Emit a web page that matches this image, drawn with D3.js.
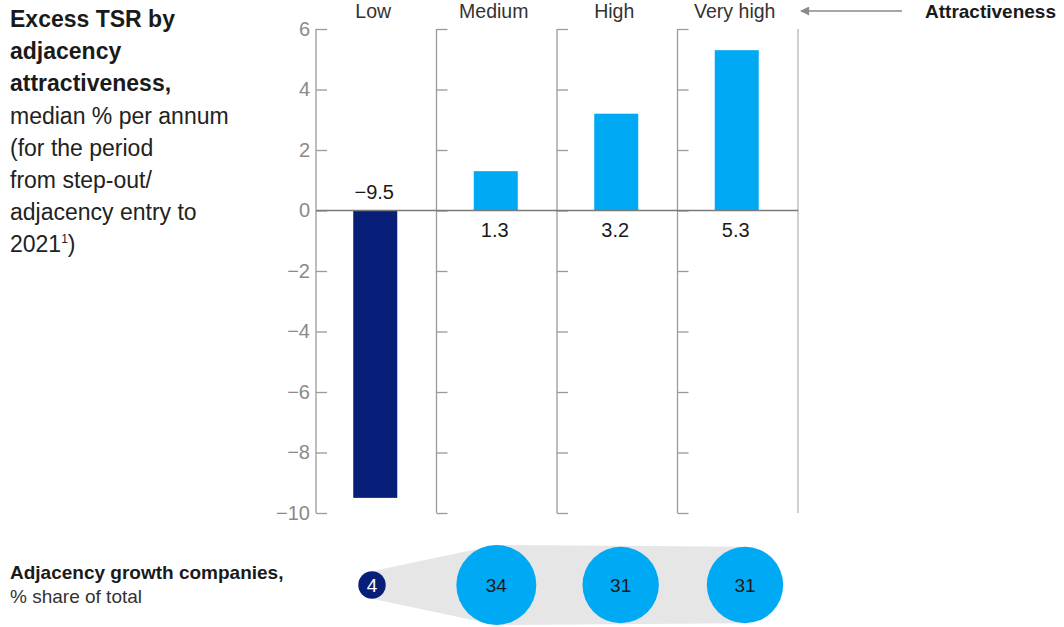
<!DOCTYPE html>
<html>
<head>
<meta charset="utf-8">
<script src="https://cdn.jsdelivr.net/npm/d3@7/dist/d3.min.js"></script>
<style>
  html, body { margin: 0; padding: 0; background: #fff; }
  svg { display: block; font-family: "Liberation Sans", Arial, sans-serif; }
</style>
</head>
<body>
<svg id="chart" width="1064" height="627"></svg>
<script>
// Attractiveness levels, excess TSR (median % p.a.) and share of companies
const categories = ["Low", "Medium", "High", "Very high"];
const tsrValues = [-9.5, 1.3, 3.2, 5.3];
const shareValues = [4, 34, 31, 31];
const yTicks = [6, 4, 2, 0, -2, -4, -6, -8, -10];

const titleBold = ["Excess TSR by", "adjacency", "attractiveness,"];
const titleNormal = ["median % per annum", "(for the period", "from step-out/", "adjacency entry to"];

const navy = "#071f78";
const blue = "#00a9f4";
const axisGray = "#9a9a9a";
const textGray = "#8a8a8a";
const ink = "#1a1a1a";

const svg = d3.select("#chart");

const x = d3.scaleBand().domain(categories).range([316, 798]).paddingInner(0).paddingOuter(0);
const y = d3.scaleLinear().domain([-10, 6]).range([513, 29]);
const barW = 44;
const minus = v => v < 0 ? "\u2212" + Math.abs(v) : String(v);

// Left title block
const title = svg.append("g").attr("font-size", 23).attr("fill", ink);
titleBold.forEach((t, i) => {
  title.append("text").attr("x", 10).attr("y", 27 + i * 32.2).attr("font-weight", "bold").text(t);
});
titleNormal.forEach((t, i) => {
  title.append("text").attr("x", 10).attr("y", 27 + (i + 3) * 32.2).attr("fill", "#222").text(t);
});
const last = title.append("text").attr("x", 10).attr("y", 27 + 7 * 32.2).attr("fill", "#222").text("2021");
last.append("tspan").attr("font-size", 12).attr("dy", -9).text("1");
last.append("tspan").attr("dy", 9).text(")");

// Left y axis with ticks pointing into the plot
const yAxis = d3.axisRight(y).tickValues(yTicks).tickSize(11).tickFormat(minus);
const yg = svg.append("g").attr("transform", `translate(${x.range()[0]},0)`).call(yAxis);
yg.select(".domain").attr("stroke", axisGray).attr("stroke-width", 1.3)
  .attr("d", `M0,${y(6)}V${y(-10)}`);
yg.selectAll(".tick line").attr("stroke", axisGray).attr("stroke-width", 1.3);
yg.selectAll(".tick text").attr("x", -6).attr("text-anchor", "end")
  .attr("fill", textGray).attr("font-size", 20).attr("font-family", "Liberation Sans, Arial, sans-serif");

// Divider axes between categories (same ticks, no labels)
categories.slice(1).forEach(c => {
  const g = svg.append("g").attr("transform", `translate(${x(c)},0)`)
    .call(d3.axisRight(y).tickValues(yTicks).tickSize(11).tickFormat(""));
  g.select(".domain").attr("stroke", axisGray).attr("stroke-width", 1.3)
    .attr("d", `M0,${y(6)}V${y(-10)}`);
  g.selectAll(".tick line").attr("stroke", axisGray).attr("stroke-width", 1.3);
});
// Closing right edge
svg.append("line")
  .attr("x1", x.range()[1]).attr("x2", x.range()[1])
  .attr("y1", y(6)).attr("y2", y(-10))
  .attr("stroke", "#b5b5b5").attr("stroke-width", 1.3);

// Bars
svg.append("g").selectAll("rect").data(categories).join("rect")
  .attr("x", (d) => x(d) + x.bandwidth() / 2 - barW / 2 - 1)
  .attr("width", barW)
  .attr("y", (d, i) => y(Math.max(0, tsrValues[i])))
  .attr("height", (d, i) => Math.abs(y(tsrValues[i]) - y(0)))
  .attr("fill", (d, i) => tsrValues[i] < 0 ? navy : blue);

// Zero baseline
svg.append("line")
  .attr("x1", x.range()[0]).attr("x2", x.range()[1])
  .attr("y1", y(0)).attr("y2", y(0))
  .attr("stroke", "#7a7a7a").attr("stroke-width", 1.3);

// Value labels: negative above the baseline, positive below it
svg.append("g").selectAll("text").data(categories).join("text")
  .attr("x", d => x(d) + x.bandwidth() / 2 - 2)
  .attr("y", (d, i) => tsrValues[i] < 0 ? y(0) - 12 : y(0) + 26)
  .attr("text-anchor", "middle").attr("font-size", 20).attr("fill", ink)
  .text((d, i) => minus(tsrValues[i]));

// Category headers
svg.append("g").selectAll("text").data(categories).join("text")
  .attr("x", d => x(d) + x.bandwidth() / 2 - 3)
  .attr("y", 18)
  .attr("text-anchor", "middle").attr("font-size", 19.5).attr("fill", "#333")
  .text(d => d);

// Arrow pointing back at the headers
svg.append("defs").append("marker")
  .attr("id", "arrowHead").attr("viewBox", "0 0 10 10").attr("refX", 9).attr("refY", 5)
  .attr("markerWidth", 12).attr("markerHeight", 9).attr("markerUnits", "userSpaceOnUse")
  .attr("orient", "auto")
  .append("path").attr("d", "M0,0L10,5L0,10Z").attr("fill", "#8a8a8a");
svg.append("line")
  .attr("x1", 902).attr("x2", 801).attr("y1", 11).attr("y2", 11)
  .attr("stroke", "#8a8a8a").attr("stroke-width", 1.3)
  .attr("marker-end", "url(#arrowHead)");
svg.append("text").attr("x", 925).attr("y", 18)
  .attr("font-size", 19).attr("font-weight", "bold").attr("fill", ink)
  .text("Attractiveness");

// Bottom bubbles: share of adjacency growth companies
const bx = d3.scalePoint().domain(categories).range([372, 745]);
const r = d3.scaleSqrt().domain([0, 34]).range([0, 40]);
const by = 585;

const pts = categories.map((c, i) => ({ c, v: shareValues[i], cx: bx(c), rr: r(shareValues[i]) }));
const first = pts[0], second = pts[1], end = pts[pts.length - 1];
const funnel = [
  [first.cx, by - first.rr],
  [second.cx, by - second.rr],
  [end.cx, by - end.rr],
  [end.cx, by + end.rr],
  [second.cx, by + second.rr],
  [first.cx, by + first.rr]
];
svg.append("path").attr("d", d3.line()(funnel) + "Z").attr("fill", "#e6e6e6");

const bub = svg.append("g").selectAll("g").data(pts).join("g");
bub.append("circle")
  .attr("cx", d => d.cx).attr("cy", by).attr("r", d => d.rr)
  .attr("fill", (d, i) => i === 0 ? navy : blue);
bub.append("text")
  .attr("x", d => d.cx).attr("y", by + 7)
  .attr("text-anchor", "middle").attr("font-size", 19)
  .attr("fill", (d, i) => i === 0 ? "#fff" : ink)
  .text(d => d.v);

svg.append("text").attr("x", 10).attr("y", 579)
  .attr("font-size", 19).attr("font-weight", "bold").attr("fill", ink)
  .text("Adjacency growth companies,");
svg.append("text").attr("x", 10).attr("y", 603)
  .attr("font-size", 19).attr("fill", "#333")
  .text("% share of total");
</script>
</body>
</html>
